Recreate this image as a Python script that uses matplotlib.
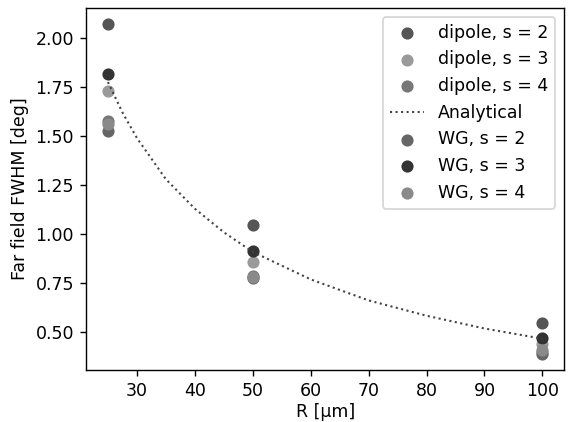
import numpy as np
import matplotlib.pyplot as plt

plt.rcParams["font.size"] = 10

R = [25, 50, 100]

dipole_s2 = [2.068, 1.048, 0.548]
dipole_s3 = [1.730, 0.861, 0.440]
dipole_s4 = [1.577, 0.785, 0.402]
wg_s2 = [1.524, 0.775, 0.392]
wg_s3 = [1.818, 0.913, 0.470]
wg_s4 = [1.560, 0.780, 0.412]

# analytical curve
R_an = [25, 27.5, 30, 35, 40, 45, 50, 60, 70, 80, 90, 100]
fwhm_an = [1.775, 1.62, 1.49, 1.28, 1.13, 1.01, 0.91, 0.77, 0.663, 0.585, 0.52, 0.468]

fig = plt.figure(figsize=(571/125, 422/125), dpi=125)
ax = fig.add_subplot(111)

h1 = ax.scatter(R, dipole_s2, color="#555555", label="dipole, s = 2")
h2 = ax.scatter(R, dipole_s3, color="#9a9a9a", label="dipole, s = 3")
h3 = ax.scatter(R, dipole_s4, color="#777777", label="dipole, s = 4")
h4, = ax.plot(R_an, fwhm_an, linestyle=":", linewidth=1.2, color="#444444", label="Analytical")
h5 = ax.scatter(R, wg_s2, color="#666666", label="WG, s = 2")
h6 = ax.scatter(R, wg_s3, color="#333333", label="WG, s = 3")
h7 = ax.scatter(R, wg_s4, color="#8a8a8a", label="WG, s = 4")

ax.set_xlabel("R [μm]", labelpad=1.5)
ax.set_ylabel("Far field FWHM [deg]")
ax.set_yticks([0.5, 0.75, 1.0, 1.25, 1.5, 1.75, 2.0])

ax.legend(handles=[h1, h2, h3, h4, h5, h6, h7], loc="upper right")

fig.subplots_adjust(left=0.151, right=0.988, top=0.981, bottom=0.123)
fig.savefig("out.png", dpi=125)
